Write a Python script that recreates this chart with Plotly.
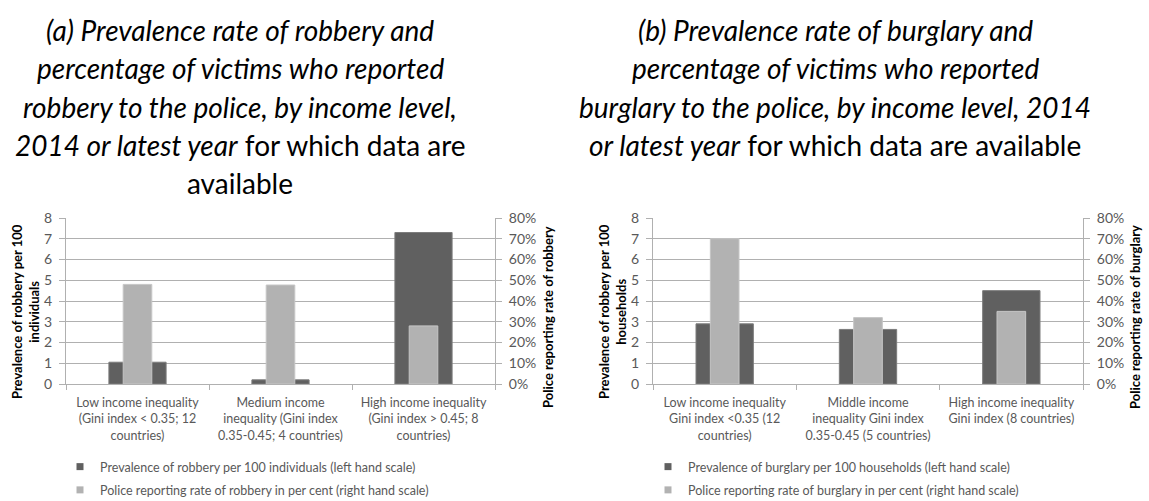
import plotly.graph_objects as go

W, H = 1149, 501

categories_a = [
    "Low income inequality<br>(Gini index &lt; 0.35; 12<br>countries)",
    "Medium income<br>inequality (Gini index<br>0.35-0.45; 4 countries)",
    "High income inequality<br>(Gini index &gt; 0.45; 8<br>countries)",
]
categories_b = [
    "Low income inequality<br>Gini index &lt;0.35 (12<br>countries)",
    "Middle income<br>inequality Gini index<br>0.35-0.45 (5 countries)",
    "High income inequality<br>Gini index (8 countries)",
]
robbery_prevalence = [1.05, 0.2, 7.3]
robbery_reporting = [48, 47.7, 28]
burglary_prevalence = [2.9, 2.63, 4.5]
burglary_reporting = [70, 32, 35]

names_a = ["Prevalence of robbery per 100 individuals (left hand scale)",
           "Police reporting rate of robbery in per cent (right hand scale)"]
names_b = ["Prevalence of burglary per 100 households (left hand scale)",
           "Police reporting rate of burglary in per cent (right hand scale)"]

positions = [0, 1, 2]
DARK = "#606060"
LIGHT = "#b2b2b2"
FONT = "Lato"
GRID = "#b0b0b0"
TICKC = "#595959"

fig = go.Figure()

def bars(y, width, xa, ya, color, edge):
    fig.add_trace(go.Bar(x=positions, y=y, width=width, xaxis=xa, yaxis=ya,
                         marker=dict(color=color, line=dict(color=edge, width=1)),
                         showlegend=False, hoverinfo="y"))

bars(robbery_prevalence, 0.4, "x", "y", DARK, "#7c7c7c")
bars(robbery_reporting, 0.2, "x", "y2", LIGHT, "#c6c6c6")
bars(burglary_prevalence, 0.4, "x2", "y3", DARK, "#7c7c7c")
bars(burglary_reporting, 0.2, "x2", "y4", LIGHT, "#c6c6c6")

# legend entries (small square keys as in the original)
for names, leg, xa, ya in [(names_a, "legend", "x", "y"), (names_b, "legend2", "x2", "y3")]:
    for nm, col, grp in zip(names, [DARK, LIGHT], ["g1", "g2"]):
        fig.add_trace(go.Scatter(x=[None], y=[None], mode="markers", xaxis=xa, yaxis=ya,
                                 marker=dict(symbol="square", size=7, color=col),
                                 name=nm, legend=leg, legendgroup=leg + grp, showlegend=True))

def px_x(p):
    return p / W

def px_y(p):
    return 1 - p / H

ydom = [px_y(384), px_y(218)]
cat_font = dict(family=FONT, size=12.5, color=TICKC)
ytick_font = dict(family=FONT, size=14, color=TICKC)

def xaxis_cfg(left, right, cats, anchor):
    return dict(domain=[px_x(left), px_x(right)], range=[-0.5, 2.5], anchor=anchor,
                tickmode="array", tickvals=positions, ticktext=cats, ticks="",
                ticklabelstandoff=7,
                showline=True, linecolor=GRID, linewidth=1, showgrid=False, zeroline=False,
                tickfont=cat_font, fixedrange=True,
                minor=dict(tickmode="array", tickvals=[-0.5, 0.5, 1.5, 2.5], ticks="outside",
                           ticklen=5, tickcolor=GRID, showgrid=False))

def yleft_cfg(anchor):
    return dict(domain=ydom, range=[0, 8], dtick=1, anchor=anchor, showgrid=True,
                gridcolor=GRID, gridwidth=1, showline=True, linecolor=GRID, zeroline=False,
                ticks="outside", ticklen=6, tickcolor=GRID, tickfont=ytick_font,
                ticklabelstandoff=4, fixedrange=True)

def yright_cfg(over, anchor):
    return dict(range=[0, 80], dtick=10, ticksuffix="%", overlaying=over, side="right",
                anchor=anchor, showgrid=False, showline=True, linecolor=GRID, zeroline=False,
                ticks="outside", ticklen=6, tickcolor=GRID, tickfont=ytick_font,
                ticklabelstandoff=4, fixedrange=True)

leg_common = dict(xanchor="left", yanchor="top", bgcolor="rgba(0,0,0,0)",
                  font=dict(family=FONT, size=12.5, color=TICKC),
                  traceorder="grouped", tracegroupgap=4, itemwidth=30)

fig.update_layout(
    width=W, height=H, autosize=False,
    margin=dict(l=0, r=0, t=0, b=0, autoexpand=False),
    paper_bgcolor="white", plot_bgcolor="white",
    barmode="overlay",
    font=dict(family=FONT, size=13, color="#000000"),
    xaxis=xaxis_cfg(66, 495, categories_a, "y"),
    yaxis=yleft_cfg("x"),
    yaxis2=yright_cfg("y", "x"),
    xaxis2=xaxis_cfg(653, 1083, categories_b, "y3"),
    yaxis3=yleft_cfg("x2"),
    yaxis4=yright_cfg("y3", "x2"),
    legend=dict(x=px_x(60), y=px_y(452), **leg_common),
    legend2=dict(x=px_x(648), y=px_y(452), **leg_common),
    showlegend=True,
)

anns = []
title_a = ["<i>(a) Prevalence rate of robbery and</i>",
           "<i>percentage of victims who reported</i>",
           "<i>robbery to the police, by income level,</i>",
           "<i>2014 or latest year</i> for which data are",
           "available"]
title_b = ["<i>(b) Prevalence rate of burglary and</i>",
           "<i>percentage of victims who reported</i>",
           "<i>burglary to the police, by income level, 2014</i>",
           "<i>or latest year</i> for which data are available"]
line_y = [30, 68, 107, 145, 183]
for txt, yy in zip(title_a, line_y):
    anns.append(dict(text=txt, x=px_x(240), y=px_y(yy), xref="paper", yref="paper",
                     xanchor="center", yanchor="middle", showarrow=False,
                     font=dict(family=FONT, size=28, color="#000000")))
for txt, yy in zip(title_b, line_y):
    anns.append(dict(text=txt, x=px_x(835), y=px_y(yy), xref="paper", yref="paper",
                     xanchor="center", yanchor="middle", showarrow=False,
                     font=dict(family=FONT, size=28, color="#000000")))

axis_titles = [
    ("<b>Prevalence of robbery per 100<br>individuals</b>", 25, 312),
    ("<b>Police reporting rate of robbery</b>", 548, 317),
    ("<b>Prevalence of robbery per 100<br>households</b>", 612, 312),
    ("<b>Police reporting rate of burglary</b>", 1135, 317),
]
for txt, xx, yy in axis_titles:
    anns.append(dict(text=txt, x=px_x(xx), y=px_y(yy), xref="paper", yref="paper",
                     xanchor="center", yanchor="middle", showarrow=False, textangle=-90,
                     font=dict(family=FONT, size=13, color="#000000")))

fig.update_layout(annotations=anns)
fig.write_html("out.html")
